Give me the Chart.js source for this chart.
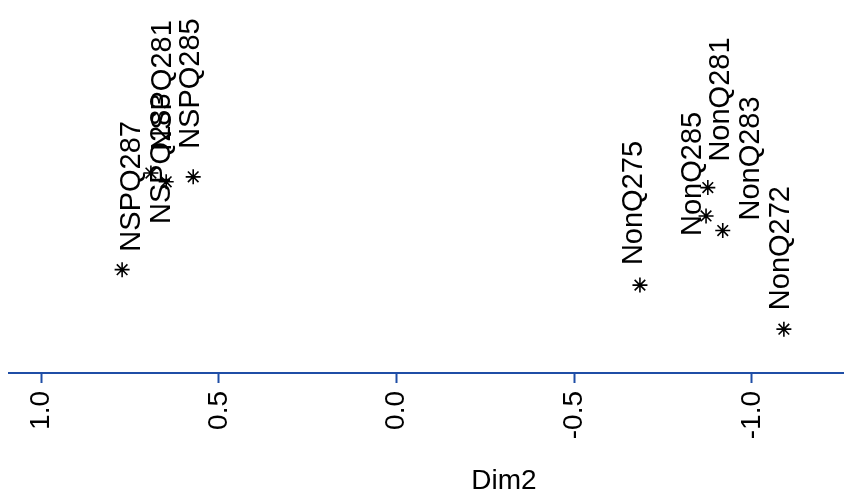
<!DOCTYPE html>
<html>
<head>
<meta charset="utf-8">
<script src="https://cdn.jsdelivr.net/npm/chart.js@4/dist/chart.umd.min.js"></script>
<style>
  html, body { margin: 0; padding: 0; overflow: hidden; background: #fff; }
</style>
</head>
<body>
<canvas id="mapChart" width="1008" height="495"></canvas>
<script>
// chart data
const pointNames = ['NSPQ287', 'NSPQ283', 'NSPQ281', 'NSPQ285', 'NonQ275', 'NonQ285', 'NonQ281', 'NonQ283', 'NonQ272'];
const dim2Values = [0.772, 0.691, 0.648, 0.572, -0.685, -0.871, -0.876, -0.918, -1.090];
const dim1Values = [-0.432, 0.099, 0.051, 0.078, -0.517, -0.137, 0.019, -0.217, -0.759];
const dim2Ticks = [1.0, 0.5, 0.0, -0.5, -1.0];

// label placement (pixels from the marker, like the original's collision avoidance)
const labelShift = [[18, -18], [19, 51], [5, -31], [6, -28], [2, -20], [-5, 20], [21, -26], [36, -10], [5, -19]];

const axisBlue = '#1f4ea6';
const textFont = '"Liberation Sans", Arial, sans-serif';

const points = dim2Values.map((v, i) => ({ x: v, y: dim1Values[i] }));

// draw the rotated point labels
const pointLabels = {
    id: 'pointLabels',
    afterDatasetsDraw(chart) {
        const ctx = chart.ctx;
        const meta = chart.getDatasetMeta(0);
        ctx.save();
        ctx.font = '29px ' + textFont;
        ctx.fillStyle = '#000';
        ctx.textAlign = 'left';
        ctx.textBaseline = 'alphabetic';
        meta.data.forEach((el, i) => {
            ctx.save();
            ctx.translate(el.x + labelShift[i][0], el.y + labelShift[i][1]);
            ctx.rotate(-Math.PI / 2);
            ctx.fillText(pointNames[i], 0, 0);
            ctx.restore();
        });
        ctx.restore();
    }
};

const ctx = document.getElementById('mapChart').getContext('2d');
const mapChart = new Chart(ctx, {
    type: 'scatter',
    data: {
        datasets: [{
            label: 'Dim',
            data: points,
            pointStyle: 'star',
            pointRadius: 7.5,
            pointHoverRadius: 7.5,
            borderColor: '#000',
            backgroundColor: '#000',
            borderWidth: 1.6
        }]
    },
    options: {
        responsive: false,
        animation: false,
        layout: { padding: { left: 8, right: 0, top: 0, bottom: 0 } },
        plugins: {
            legend: { display: false },
            tooltip: { enabled: false }
        },
        scales: {
            x: {
                type: 'linear',
                reverse: true,
                min: -1.695,
                max: 1.09,
                afterFit(scale) {
                    scale.height = 122;
                    scale.paddingLeft = 0;
                    scale.paddingRight = 0;
                },
                afterBuildTicks(scale) {
                    scale.ticks = dim2Ticks.map(v => ({ value: v }));
                },
                border: { display: true, color: axisBlue, width: 2 },
                grid: {
                    drawOnChartArea: false,
                    drawTicks: true,
                    tickLength: 10,
                    tickWidth: 2,
                    color: axisBlue
                },
                ticks: {
                    minRotation: 90,
                    maxRotation: 90,
                    padding: 8,
                    color: '#000',
                    font: { family: textFont, size: 28 },
                    callback: v => v.toFixed(1)
                },
                title: {
                    display: true,
                    text: 'Dim2',
                    color: '#000',
                    font: { family: textFont, size: 28, lineHeight: 1 },
                    padding: { top: 0, bottom: 0 }
                }
            },
            y: {
                display: false,
                min: -1,
                max: 1
            }
        }
    },
    plugins: [pointLabels]
});
</script>
</body>
</html>
